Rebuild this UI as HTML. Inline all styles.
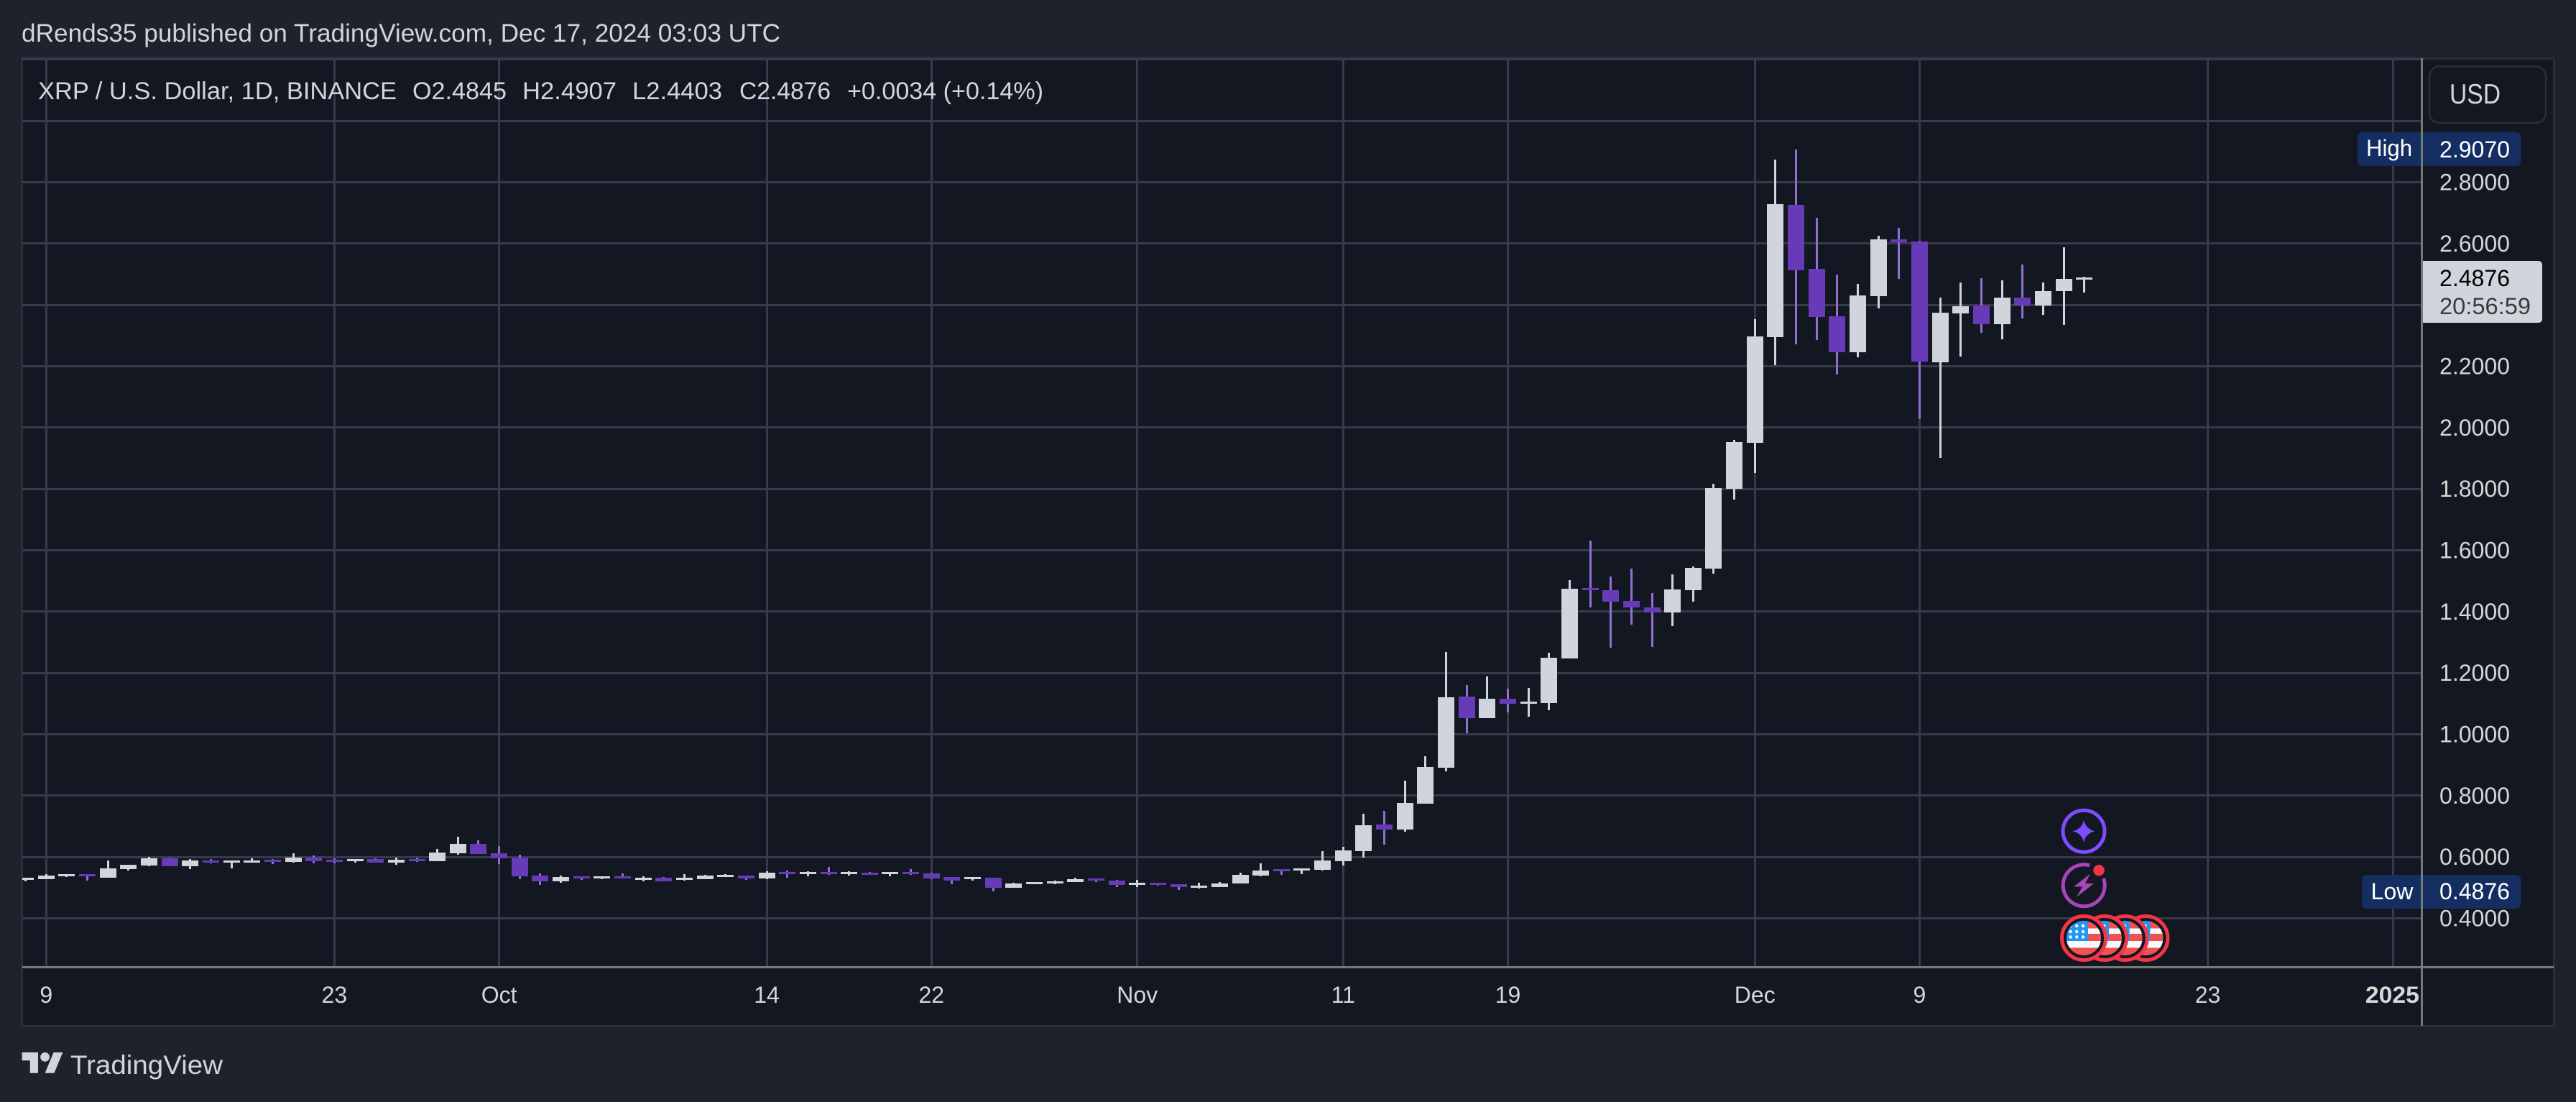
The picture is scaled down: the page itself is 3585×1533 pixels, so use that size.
<!DOCTYPE html>
<html lang="en">
<head>
<meta charset="utf-8">
<title>XRP / U.S. Dollar chart</title>
<style>
html,body{margin:0;padding:0;background:#1E222D;width:3585px;height:1533px;overflow:hidden}
svg{display:block}
text{font-family:"Liberation Sans",sans-serif}
</style>
</head>
<body>
<svg id="chart" xmlns="http://www.w3.org/2000/svg" width="3585" height="1533" viewBox="0 0 3585 1533">
  <defs>
    <clipPath id="pane-clip"><rect x="31" y="84" width="3338" height="1260"></rect></clipPath>
    <clipPath id="flag-clip"><circle cx="0" cy="0" r="24"></circle></clipPath>
    <g id="flag-icon">
      <circle cx="0" cy="0" r="30.5" fill="#131722" stroke="#F23645" stroke-width="5"></circle>
      <g clip-path="url(#flag-clip)">
        <rect x="-24" y="-24" width="48" height="48" fill="#EF5350"></rect>
        <rect x="-24" y="-13.5" width="48" height="7.5" fill="#F8F8FF"></rect>
        <rect x="-24" y="4" width="48" height="9.5" fill="#F8F8FF"></rect>
        <rect x="-24" y="-24" width="30" height="28" fill="#2196F3"></rect>
        <g fill="#FFFFFF">
          <circle cx="-18.5" cy="-17" r="2.2"></circle><circle cx="-9.8" cy="-17" r="2.2"></circle><circle cx="-1" cy="-17" r="2.2"></circle>
          <circle cx="-18.5" cy="-9" r="2.2"></circle><circle cx="-9.8" cy="-9" r="2.2"></circle><circle cx="-1" cy="-9" r="2.2"></circle>
          <circle cx="-18.5" cy="-1.6" r="2.2"></circle><circle cx="-9.8" cy="-1.6" r="2.2"></circle><circle cx="-1" cy="-1.6" r="2.2"></circle>
        </g>
      </g>
    </g>
  </defs>

  <rect x="0" y="0" width="3585" height="1533" fill="#1E222D"></rect>
  <text x="30" y="58" font-size="35" fill="#D1D4DC" textLength="1056" lengthAdjust="spacingAndGlyphs">dRends35 published on TradingView.com, Dec 17, 2024 03:03 UTC</text>

  <rect x="30.5" y="81.5" width="3524" height="1346" fill="#131722" stroke="#2A2E39" stroke-width="3"></rect>
  <rect x="30" y="80" width="3340" height="4" fill="#363A4A"></rect>

  <g id="grid"></g>
  <g id="candles" clip-path="url(#pane-clip)"></g>

  <g font-size="34" fill="#D1D4DC">
    <text x="53" y="138" textLength="499" lengthAdjust="spacingAndGlyphs">XRP / U.S. Dollar, 1D, BINANCE</text>
    <text x="574" y="138" textLength="131" lengthAdjust="spacingAndGlyphs">O2.4845</text>
    <text x="727" y="138" textLength="131" lengthAdjust="spacingAndGlyphs">H2.4907</text>
    <text x="880" y="138" textLength="125" lengthAdjust="spacingAndGlyphs">L2.4403</text>
    <text x="1029" y="138" textLength="127" lengthAdjust="spacingAndGlyphs">C2.4876</text>
    <text x="1179" y="138" textLength="273" lengthAdjust="spacingAndGlyphs">+0.0034 (+0.14%)</text>
  </g>

  <g id="price-axis"></g>
  <g id="time-axis"></g>
  <g id="markers"></g>

  <rect x="3369" y="81" width="3" height="1346" fill="#787878"></rect>
  <rect x="31" y="1344" width="3523" height="3" fill="#787878"></rect>

  <g>
    <rect x="3381" y="92.5" width="162" height="78.5" rx="14" fill="#131722" stroke="#2A2E39" stroke-width="2.5"></rect>
    <text x="3409" y="144" font-size="39" fill="#D1D4DC" textLength="71" lengthAdjust="spacingAndGlyphs">USD</text>
  </g>

  <g>
    <circle cx="2900" cy="1156.3" r="29" fill="#131722" stroke="#7E4DFF" stroke-width="5"></circle>
    <path d="M2900 1141 Q2903 1153.5 2915.5 1156.3 Q2903 1159 2900 1171.5 Q2897 1159 2884.5 1156.3 Q2897 1153.5 2900 1141Z" fill="#7E4DFF"></path>
  </g>
  <g>
    <path d="M2908 1203.8 A29 29 0 1 0 2927.5 1222" fill="#131722" stroke="#A845BA" stroke-width="5"></path>
    <polygon points="2909,1215.5 2886,1233.5 2898,1233.5 2890,1248 2914,1229 2902,1229" fill="#A845BA"></polygon>
    <circle cx="2921" cy="1210.7" r="7.7" fill="#F23645"></circle>
  </g>
  <g>
    <use href="#flag-icon" transform="translate(2986.4 1305)"></use>
    <use href="#flag-icon" transform="translate(2957.6 1305)"></use>
    <use href="#flag-icon" transform="translate(2929 1305)"></use>
    <use href="#flag-icon" transform="translate(2900 1305)"></use>
  </g>

  <g>
    <g transform="translate(30.6 1457.6) scale(1.6)" fill="#D1D4DC">
      <path d="M14 22H7V11H0V4h14v18zM28 22h-8l7.5-18h8L28 22z"></path>
      <circle cx="20" cy="8" r="4"></circle>
    </g>
    <text x="98" y="1494" font-size="37" fill="#D1D4DC" textLength="212" lengthAdjust="spacingAndGlyphs">TradingView</text>
  </g>
</svg>

<script>
const categories = [
'2024-09-08','2024-09-09','2024-09-10','2024-09-11','2024-09-12','2024-09-13','2024-09-14','2024-09-15','2024-09-16','2024-09-17',
'2024-09-18','2024-09-19','2024-09-20','2024-09-21','2024-09-22','2024-09-23','2024-09-24','2024-09-25','2024-09-26','2024-09-27',
'2024-09-28','2024-09-29','2024-09-30','2024-10-01','2024-10-02','2024-10-03','2024-10-04','2024-10-05','2024-10-06','2024-10-07',
'2024-10-08','2024-10-09','2024-10-10','2024-10-11','2024-10-12','2024-10-13','2024-10-14','2024-10-15','2024-10-16','2024-10-17',
'2024-10-18','2024-10-19','2024-10-20','2024-10-21','2024-10-22','2024-10-23','2024-10-24','2024-10-25','2024-10-26','2024-10-27',
'2024-10-28','2024-10-29','2024-10-30','2024-10-31','2024-11-01','2024-11-02','2024-11-03','2024-11-04','2024-11-05','2024-11-06',
'2024-11-07','2024-11-08','2024-11-09','2024-11-10','2024-11-11','2024-11-12','2024-11-13','2024-11-14','2024-11-15','2024-11-16',
'2024-11-17','2024-11-18','2024-11-19','2024-11-20','2024-11-21','2024-11-22','2024-11-23','2024-11-24','2024-11-25','2024-11-26',
'2024-11-27','2024-11-28','2024-11-29','2024-11-30','2024-12-01','2024-12-02','2024-12-03','2024-12-04','2024-12-05','2024-12-06',
'2024-12-07','2024-12-08','2024-12-09','2024-12-10','2024-12-11','2024-12-12','2024-12-13','2024-12-14','2024-12-15','2024-12-16','2024-12-17'];

const opens = [
.5258,.5281,.5375,.5445,.5328,.5609,.5727,.5961,.5703,.5891,
.5820,.5820,.5914,.5844,.5984,.5914,.5867,.5938,.5820,.5938,
.5867,.6125,.6430,.6125,.5984,.5398,.5211,.5375,.5305,.5375,
.5258,.5328,.5258,.5281,.5352,.5398,.5305,.5516,.5445,.5516,
.5445,.5492,.5445,.5516,.5469,.5352,.5281,.5328,.5000,.5117,
.5141,.5188,.5305,.5234,.5094,.5164,.5117,.5000,.5023,.5141,
.5398,.5609,.5563,.5586,.5867,.6195,.7062,.6898,.7742,.8914,
1.1234,1.0531,1.1164,1.1000,1.1023,1.2477,1.4773,1.4703,1.4352,1.4141,
1.3977,1.4703,1.5406,1.8008,1.9508,2.2953,2.7266,2.5180,2.3633,2.2461,
2.4289,2.6141,2.6070,2.2133,2.3727,2.3984,2.3375,2.4242,2.3984,2.4453,2.4845];

const highs = [
.5328,.5445,.5445,.5445,.5891,.5750,.6008,.5984,.5938,.5938,
.5891,.5961,.5938,.6125,.6055,.5961,.5938,.5961,.5984,.5984,
.6266,.6664,.6547,.6359,.6078,.5469,.5398,.5375,.5375,.5469,
.5375,.5352,.5445,.5422,.5445,.5398,.5539,.5563,.5539,.5680,
.5539,.5516,.5516,.5609,.5492,.5352,.5352,.5328,.5164,.5188,
.5234,.5328,.5305,.5258,.5258,.5164,.5117,.5164,.5188,.5492,
.5797,.5609,.5633,.6195,.6336,.7414,.7508,.8492,.9289,1.2687,
1.1609,1.1891,1.1492,1.1516,1.2664,1.5031,1.6320,1.5148,1.5406,1.4609,
1.5219,1.5477,1.8172,1.9602,2.3539,2.8742,2.9070,2.6844,2.4992,2.4688,
2.6258,2.6516,2.6094,2.4242,2.4734,2.4875,2.4805,2.5320,2.4734,2.5883,2.4907];

const lows = [
.5211,.5281,.5352,.5234,.5328,.5563,.5703,.5703,.5609,.5797,
.5633,.5820,.5773,.5820,.5797,.5797,.5820,.5820,.5750,.5844,
.5867,.6078,.6102,.5773,.5281,.5094,.5164,.5258,.5281,.5305,
.5211,.5211,.5234,.5281,.5352,.5258,.5281,.5328,.5375,.5422,
.5398,.5422,.5375,.5422,.5281,.5117,.5234,.4876,.5000,.5117,
.5117,.5188,.5188,.5023,.5023,.5070,.4930,.4977,.5023,.5141,
.5375,.5422,.5445,.5563,.5727,.5984,.6406,.6828,.7742,.8797,
1.0039,1.0531,1.0719,1.0578,1.0789,1.2477,1.4141,1.2828,1.3578,1.2852,
1.3531,1.4328,1.5242,1.7656,1.8523,2.2039,2.2719,2.2859,2.1734,2.2297,
2.3891,2.4852,2.0281,1.9016,2.2320,2.3094,2.2883,2.3563,2.3680,2.3352,2.4403];

const closes = [
.5328,.5398,.5445,.5375,.5633,.5750,.5961,.5703,.5891,.5820,
.5891,.5891,.5844,.5984,.5867,.5844,.5938,.5820,.5914,.5867,
.6148,.6430,.6102,.5961,.5375,.5211,.5352,.5305,.5375,.5305,
.5328,.5211,.5328,.5398,.5422,.5305,.5492,.5445,.5516,.5445,
.5516,.5422,.5516,.5445,.5305,.5234,.5352,.5000,.5141,.5188,
.5211,.5281,.5234,.5094,.5164,.5094,.5023,.5070,.5141,.5422,
.5563,.5539,.5633,.5891,.6219,.7039,.6898,.7766,.8937,1.1211,
1.0531,1.1164,1.1000,1.1070,1.2500,1.4750,1.4703,1.4328,1.4141,1.3977,
1.4727,1.5430,1.8031,1.9531,2.2977,2.7289,2.5133,2.3609,2.2461,2.4313,
2.6141,2.6047,2.2156,2.3750,2.3961,2.3375,2.4242,2.3984,2.4453,2.4852,2.4876];

const gridPrices = [3.0,2.8,2.6,2.4,2.2,2.0,1.8,1.6,1.4,1.2,1.0,0.8,0.6,0.4];
const priceTickValues = [2.8,2.6,2.2,2.0,1.8,1.6,1.4,1.2,1.0,0.8,0.6,0.4];
const timeTickDates = ['2024-09-09','2024-09-23','2024-10-01','2024-10-14','2024-10-22','2024-11-01','2024-11-11','2024-11-19','2024-12-01','2024-12-09','2024-12-23','2025-01-01'];
const timeTickLabels = ['9','23','Oct','14','22','Nov','11','19','Dec','9','23','2025'];
const countdownLabel = '20:56:59';

const SVG_NS = 'http://www.w3.org/2000/svg';
const DAY_MS = 86400000;
const xAnchorDate = Date.parse('2024-09-09');
function xScale(dateStr) {
  return 64.3 + 28.65 * (Date.parse(dateStr) - xAnchorDate) / DAY_MS;
}
function yScale(price) {
  return 253.5 + (2.8 - price) * 426.67;
}

function addRect(parent, x, y, w, h, fill, name, rx) {
  const el = document.createElementNS(SVG_NS, 'rect');
  el.setAttribute('x', x);
  el.setAttribute('y', y);
  el.setAttribute('width', w);
  el.setAttribute('height', h);
  el.setAttribute('fill', fill);
  if (rx) el.setAttribute('rx', rx);
  
  
  parent.appendChild(el);
  return el;
}
function addText(parent, x, y, str, size, fill, anchor, name, width, weight) {
  const el = document.createElementNS(SVG_NS, 'text');
  el.setAttribute('x', x);
  el.setAttribute('y', y);
  el.setAttribute('font-size', size);
  el.setAttribute('fill', fill);
  el.setAttribute('text-anchor', anchor);
  if (width) {
    el.setAttribute('textLength', width);
    el.setAttribute('lengthAdjust', 'spacingAndGlyphs');
  }
  if (weight) el.setAttribute('font-weight', weight);
  el.textContent = str;
  
  
  parent.appendChild(el);
  return el;
}

const GRID = '#363A4A', UP = '#D1D4DC', DOWN = '#673AB7', DOWN_WICK = '#9270D0', AXIS_TEXT = '#D6D6D6';

const gridG = document.getElementById('grid');
gridPrices.forEach(function (p) {
  addRect(gridG, 31, Math.round(yScale(p) - 1.5), 3338, 3, GRID, 'horizontal-gridline');
});
timeTickDates.forEach(function (d) {
  addRect(gridG, Math.round(xScale(d) - 1.5), 84, 3, 1260, GRID, 'vertical-gridline');
});

const candlesG = document.getElementById('candles');
categories.forEach(function (date, i) {
  const up = closes[i] >= opens[i];
  const cx = xScale(date);
  const g = document.createElementNS(SVG_NS, 'g');
  
  
  candlesG.appendChild(g);
  const yHigh = Math.round(yScale(highs[i]));
  const yLow = Math.round(yScale(lows[i]));
  addRect(g, Math.round(cx - 1.5), yHigh, 3, Math.max(yLow - yHigh, 1), up ? UP : DOWN_WICK, 'candle-wick');
  const rawTop = yScale(Math.max(opens[i], closes[i]));
  const rawBot = yScale(Math.min(opens[i], closes[i]));
  let top = Math.round(rawTop);
  let h = Math.round(rawBot) - top;
  if (h < 3) {
    top = Math.round((rawTop + rawBot) / 2 - 1.5);
    h = 3;
  }
  addRect(g, Math.round(cx - 11.5), top, 23, h, up ? UP : DOWN, 'candle-body');
});

const priceAxisG = document.getElementById('price-axis');
priceTickValues.forEach(function (p) {
  addText(priceAxisG, 3395, yScale(p) + 11, p.toFixed(4), 32, AXIS_TEXT, 'start', 'price-tick-label', 98);
});

const timeAxisG = document.getElementById('time-axis');
timeTickLabels.forEach(function (label, i) {
  const isYear = label.length === 4;
  addText(timeAxisG, xScale(timeTickDates[i]) - (isYear ? 1 : 0), 1395, label, 32, AXIS_TEXT, 'middle', 'time-tick-label', isYear ? 75 : 0, isYear ? 'bold' : '');
});

const markersG = document.getElementById('markers');
const highValue = Math.max.apply(null, highs);
const lowValue = Math.min.apply(null, lows);
const lastClose = closes[closes.length - 1];

const yHighLabel = yScale(highValue);
addRect(markersG, 3281, Math.round(yHighLabel - 23.5), 227, 47, '#142E61', 'high-label-background', 6);
addText(markersG, 3293, yHighLabel + 9, 'High', 32, '#FFFFFF', 'start', 'high-label-text', 64);
addText(markersG, 3395, yHighLabel + 11, highValue.toFixed(4), 32, '#FFFFFF', 'start', 'high-label-value', 98);

const yLowLabel = yScale(lowValue);
addRect(markersG, 3287, Math.round(yLowLabel - 23), 221, 47, '#142E61', 'low-label-background', 6);
addText(markersG, 3299.5, yLowLabel + 11, 'Low', 32, '#FFFFFF', 'start', 'low-label-text', 59);
addText(markersG, 3395, yLowLabel + 11, lowValue.toFixed(4), 32, '#FFFFFF', 'start', 'low-label-value', 98);

const yLast = yScale(lastClose);
addRect(markersG, 3372, Math.round(yLast - 24), 166, 86, UP, 'last-price-background', 5);
addRect(markersG, 3372, Math.round(yLast - 24), 8, 86, UP, 'last-price-background-edge');
addText(markersG, 3395, yLast + 11, lastClose.toFixed(4), 32, '#000000', 'start', 'last-price-value', 98);
addText(markersG, 3395, yLast + 50, countdownLabel, 32, '#3A3A3A', 'start', 'bar-countdown', 127);
</script>
</body>
</html>
